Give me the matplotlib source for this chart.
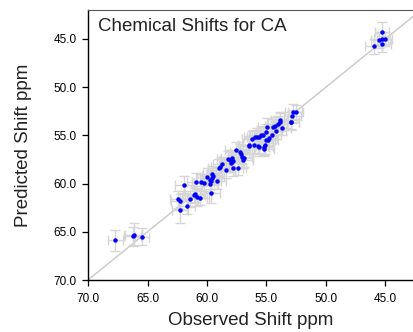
import matplotlib
matplotlib.use("Agg")
import matplotlib.pyplot as plt
from matplotlib.ticker import FormatStrFormatter

# observed (x) and predicted (y) CA shifts, ppm
observed = [67.7, 66.25, 66.16, 65.46,
            46.0, 45.3, 45.5, 45.3, 45.07, 45.27,
            52.75, 52.55, 52.83, 52.97, 52.9,
            53.84, 53.9, 54.06, 54.3, 54.45, 54.2, 53.67, 54.93, 54.5,
            55.07, 55.27, 55.5, 55.66, 55.83, 56.0, 56.25, 55.07, 54.8, 54.84,
            56.5, 56.47, 56.08, 55.7, 55.6, 55.24, 55.16, 55.2,
            57.6, 57.23, 57.1, 57.03, 56.9, 56.95,
            58.26, 58.1, 57.9, 57.8, 57.95, 57.8, 57.42,
            58.7, 59.0, 58.9, 58.43,
            59.55, 59.5, 60.0, 59.6, 59.78, 59.2,
            60.9, 60.48, 60.25, 59.75, 59.66, 61.96, 59.7,
            61.04, 61.1, 60.8, 60.6, 61.43, 62.4, 62.3, 61.68, 62.27]
predicted = [65.9, 65.45, 65.3, 65.5,
             45.76, 44.24, 45.14, 45.0, 45.0, 45.55,
             52.58, 52.58, 53.04, 53.6, 53.65,
             53.4, 53.6, 53.8, 54.0, 54.1, 54.5, 54.2, 54.13, 55.0,
             54.7, 54.97, 54.93, 55.2, 55.14, 55.2, 55.4, 55.45, 55.24, 55.45,
             55.97, 56.1, 56.0, 56.07, 56.2, 56.2, 56.0, 56.38,
             56.56, 56.7, 56.97, 57.2, 57.4, 57.56,
             57.5, 57.56, 57.4, 57.7, 57.9, 58.36, 58.36,
             58.0, 58.4, 58.3, 58.6,
             59.05, 59.2, 59.3, 59.4, 59.64, 59.74,
             59.84, 59.84, 59.95, 60.0, 59.74, 60.1, 60.95,
             61.06, 61.23, 61.4, 61.47, 61.6, 61.64, 61.85, 62.37, 62.75]
# uncertainties
obs_err = [0.6, 0.7, 0.7, 0.6,
           0.7, 0.6, 0.7, 0.7, 0.6, 0.7,
           0.7, 0.6, 0.7, 0.7, 0.6,
           0.8, 0.7, 0.8, 0.8, 0.7, 0.8, 0.7, 0.8, 0.7,
           0.8, 0.8, 0.9, 0.8, 0.8, 0.9, 0.8, 0.8, 0.7, 0.8,
           0.9, 0.8, 0.9, 0.8, 0.8, 0.8, 0.7, 0.8,
           0.9, 0.8, 0.9, 0.8, 0.8, 0.8,
           0.9, 0.8, 0.9, 0.8, 0.8, 0.8, 0.7,
           0.8, 0.9, 0.8, 0.8,
           0.8, 0.9, 0.8, 0.8, 0.8, 0.8,
           0.8, 0.8, 0.8, 0.7, 0.8, 0.7, 0.8,
           0.8, 0.9, 0.8, 0.8, 0.7, 0.7, 0.7, 0.7, 0.7]
pred_err = [1.1, 0.9, 1.2, 0.9,
            0.8, 1.0, 0.8, 0.7, 0.7, 0.8,
            0.8, 0.7, 0.7, 0.8, 0.7,
            0.8, 0.9, 0.8, 0.9, 0.8, 0.9, 0.8, 0.9, 0.8,
            0.9, 0.8, 0.9, 0.8, 0.9, 0.8, 0.9, 0.8, 0.9, 0.8,
            0.9, 0.8, 0.9, 0.8, 0.9, 0.8, 0.9, 0.8,
            0.9, 0.8, 0.9, 0.8, 0.9, 0.8,
            0.9, 0.8, 0.9, 0.8, 0.9, 0.9, 0.8,
            0.8, 0.9, 0.8, 0.8,
            0.9, 0.8, 0.9, 0.8, 0.9, 0.8,
            0.9, 0.8, 0.8, 0.9, 0.8, 0.9, 1.1,
            0.8, 0.8, 0.9, 0.8, 0.8, 0.9, 0.8, 0.8, 1.3]
ticks = [70.0, 65.0, 60.0, 55.0, 50.0, 45.0]

plt.rcParams["font.family"] = ["Liberation Sans", "DejaVu Sans"]

fig = plt.figure(figsize=(4.14, 3.32), dpi=100)
ax = fig.add_axes([0.2126, 0.1566, 0.7874, 0.8134])

# y = x reference line
ax.plot([75, 35], [75, 35], "-", color="#cccccc", linewidth=1.1, zorder=1)

ax.errorbar(observed, predicted, xerr=obs_err, yerr=pred_err, fmt="none",
            ecolor="#d6d6d6", elinewidth=1.0, capsize=3.5, capthick=1.0, zorder=2)
ax.plot(observed, predicted, "o", color="#0000ff", markersize=3.2,
        markeredgewidth=0, zorder=3)

ax.set_xlim(70.0, 42.6)
ax.set_ylim(70.0, 42.0)
ax.set_xticks(ticks)
ax.set_yticks(ticks)
ax.xaxis.set_major_formatter(FormatStrFormatter("%.1f"))
ax.yaxis.set_major_formatter(FormatStrFormatter("%.1f"))
ax.tick_params(labelsize=8.5, length=4.5, width=0.9, direction="out")
ax.tick_params(axis="x", pad=5)
ax.tick_params(axis="y", pad=3.5)

ax.spines["right"].set_visible(False)
ax.spines["top"].set_color("#555555")
ax.spines["left"].set_linewidth(1.0)
ax.spines["bottom"].set_linewidth(1.0)

ax.text(0.03, 0.97, "Chemical Shifts for CA", transform=ax.transAxes,
        fontsize=13.5, color="#222222", va="top", ha="left")
ax.set_xlabel("Observed Shift ppm", fontsize=13.5, color="#222222", labelpad=5)
ax.set_ylabel("Predicted Shift ppm", fontsize=13.5, color="#222222", labelpad=16)

fig.savefig("out.png", dpi=100)
